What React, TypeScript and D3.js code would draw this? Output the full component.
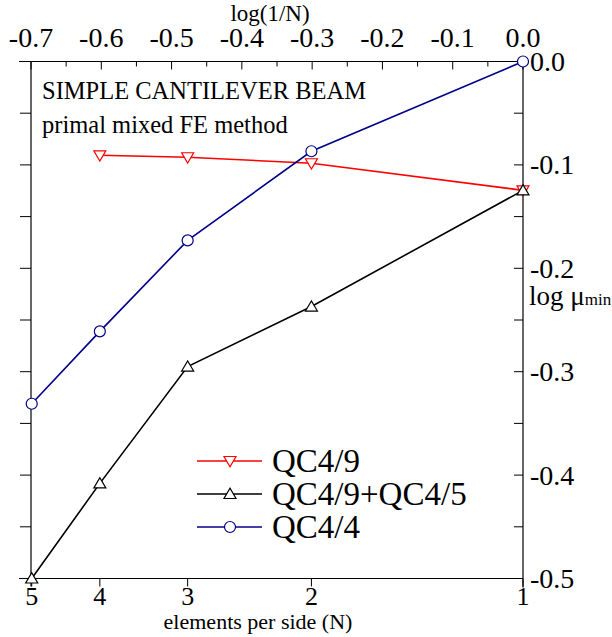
import React from "react";
import * as d3 from "d3";

const nValues = [5, 4, 3, 2, 1];
const qc49 = [null, -0.0907, -0.0926, -0.0984, -0.1246];
const qc49qc45 = [-0.5, -0.408, -0.295, -0.237, -0.1246];
const qc44 = [-0.331, -0.261, -0.173, -0.0868, 0.0];
const topTicks = [-0.7, -0.6, -0.5, -0.4, -0.3, -0.2, -0.1, 0.0];
const rightTicks = [0.0, -0.1, -0.2, -0.3, -0.4, -0.5];
const seriesNames = ["QC4/9", "QC4/9+QC4/5", "QC4/4"];

const W = 612, H = 637;
const FONT = "'Liberation Serif', 'Times New Roman', serif";

export default function App() {
  const x = d3.scaleLinear().domain([-0.7, 0]).range([31, 523]);
  const y = d3.scaleLinear().domain([0, -0.5]).range([61.5, 578.5]);
  const lx = (n: number) => x(Math.log10(1 / n));

  const series = [
    { name: seriesNames[0], vals: qc49, color: "#ff0000", marker: "down" },
    { name: seriesNames[1], vals: qc49qc45, color: "#000000", marker: "up" },
    { name: seriesNames[2], vals: qc44, color: "#000088", marker: "circle" },
  ];

  const line = d3
    .line<[number, number | null]>()
    .defined((d) => d[1] !== null)
    .x((d) => lx(d[0]))
    .y((d) => y(d[1] as number));

  const marker = (kind: string, cx: number, cy: number, color: string, key: any) => {
    if (kind === "circle")
      return <circle key={key} cx={cx} cy={cy} r={5.5} fill="white" stroke={color} strokeWidth={1.2} />;
    const s = 6;
    if (kind === "down")
      return (
        <path key={key} d={`M${cx - s},${cy - s * 0.75}L${cx + s},${cy - s * 0.75}L${cx},${cy + s * 0.95}Z`}
          fill="white" stroke={color} strokeWidth={1.2} />
      );
    return (
      <path key={key} d={`M${cx - s},${cy + s * 0.75}L${cx + s},${cy + s * 0.75}L${cx},${cy - s * 0.95}Z`}
        fill="white" stroke={color} strokeWidth={1.2} />
    );
  };

  const minor = d3.range(0, 11).map((i) => -i * 0.05);
  const minorX = d3.range(0, 15).map((i) => -0.7 + i * 0.05);

  const x0 = x(-0.7), x1 = x(0), y0 = y(0), y1 = y(-0.5);

  return (
    <svg width={W} height={H} style={{ position: "absolute", left: 0, top: 0, background: "white" }}
      fontFamily={FONT}>
      <rect x={0} y={0} width={W} height={H} fill="white" />
      <g stroke="#000" strokeWidth={1.2} fill="none">
        <line x1={x0 - 12} x2={x1} y1={y0} y2={y0} />
        <line x1={x0 - 12} x2={x1} y1={y1} y2={y1} />
        <line x1={x0} x2={x0} y1={y0} y2={y1 + 8} />
        <line x1={x1} x2={x1} y1={y0} y2={y1 + 9} />
      </g>
      <g stroke="#000" strokeWidth={1}>
        {minorX.map((v, i) => {
          const major = i % 2 === 0;
          return <line key={i} x1={x(v)} x2={x(v)} y1={y0} y2={y0 + (major ? 8 : 5)} />;
        })}
      </g>
      <g stroke="#000" strokeWidth={1}>
        {minor.map((v, i) => (
          <line key={i} x1={x0 - 11} x2={x0} y1={y(v)} y2={y(v)} />
        ))}
      </g>
      <g stroke="#000" strokeWidth={1}>
        {minor.map((v, i) => (
          <line key={i} x1={x1 - 9} x2={x1} y1={y(v)} y2={y(v)} />
        ))}
      </g>
      <g stroke="#000" strokeWidth={1}>
        {nValues.map((n, i) => (
          <line key={i} x1={lx(n)} x2={lx(n)} y1={y1} y2={y1 + 8} />
        ))}
      </g>
      <g fontSize={28} textAnchor="middle" fill="#000">
        {topTicks.map((v, i) => (
          <text key={i} x={x(v)} y={47}>{v.toFixed(1)}</text>
        ))}
      </g>
      <text x={270} y={21} fontSize={23} textAnchor="middle" fill="#000">log(1/N)</text>
      <g fontSize={28} textAnchor="start" fill="#000">
        {rightTicks.map((v, i) => (
          <text key={i} x={x1 + 7} y={y(v) + 9.5}>{v === 0 ? "0.0" : v.toFixed(1)}</text>
        ))}
      </g>
      <text x={529} y={305} fontSize={27} fill="#000">
        log μ<tspan fontSize={17}>min</tspan>
      </text>
      <g fontSize={26} textAnchor="middle" fill="#000">
        {nValues.map((n, i) => (
          <text key={i} x={lx(n)} y={605}>{n}</text>
        ))}
      </g>
      <text x={258} y={629} fontSize={22} textAnchor="middle" fill="#000">elements per side (N)</text>
      <g fontSize={24.5} fill="#000">
        <text x={42} y={99}>SIMPLE CANTILEVER BEAM</text>
        <text x={42} y={133}>primal mixed FE method</text>
      </g>
      {series.map((s, si) => {
        const pts = nValues.map((n, i) => [n, s.vals[i]] as [number, number | null]);
        return (
          <g key={si}>
            <path d={line(pts) || ""} fill="none" stroke={s.color} strokeWidth={1.6} />
          </g>
        );
      })}
      {series.map((s, si) => (
        <g key={"m" + si}>
          {nValues.map((n, i) =>
            s.vals[i] === null ? null : marker(s.marker, lx(n), y(s.vals[i] as number), s.color, i)
          )}
        </g>
      ))}
      {series.map((s, si) => {
        const ly = 461 + si * 33;
        return (
          <g key={"l" + si}>
            <line x1={197} x2={262} y1={ly} y2={ly} stroke={s.color} strokeWidth={1.6} />
            {marker(s.marker, 230, ly, s.color, "lm")}
            <text x={272} y={ly + 11} fontSize={33} fill="#000">{s.name}</text>
          </g>
        );
      })}
    </svg>
  );
}
